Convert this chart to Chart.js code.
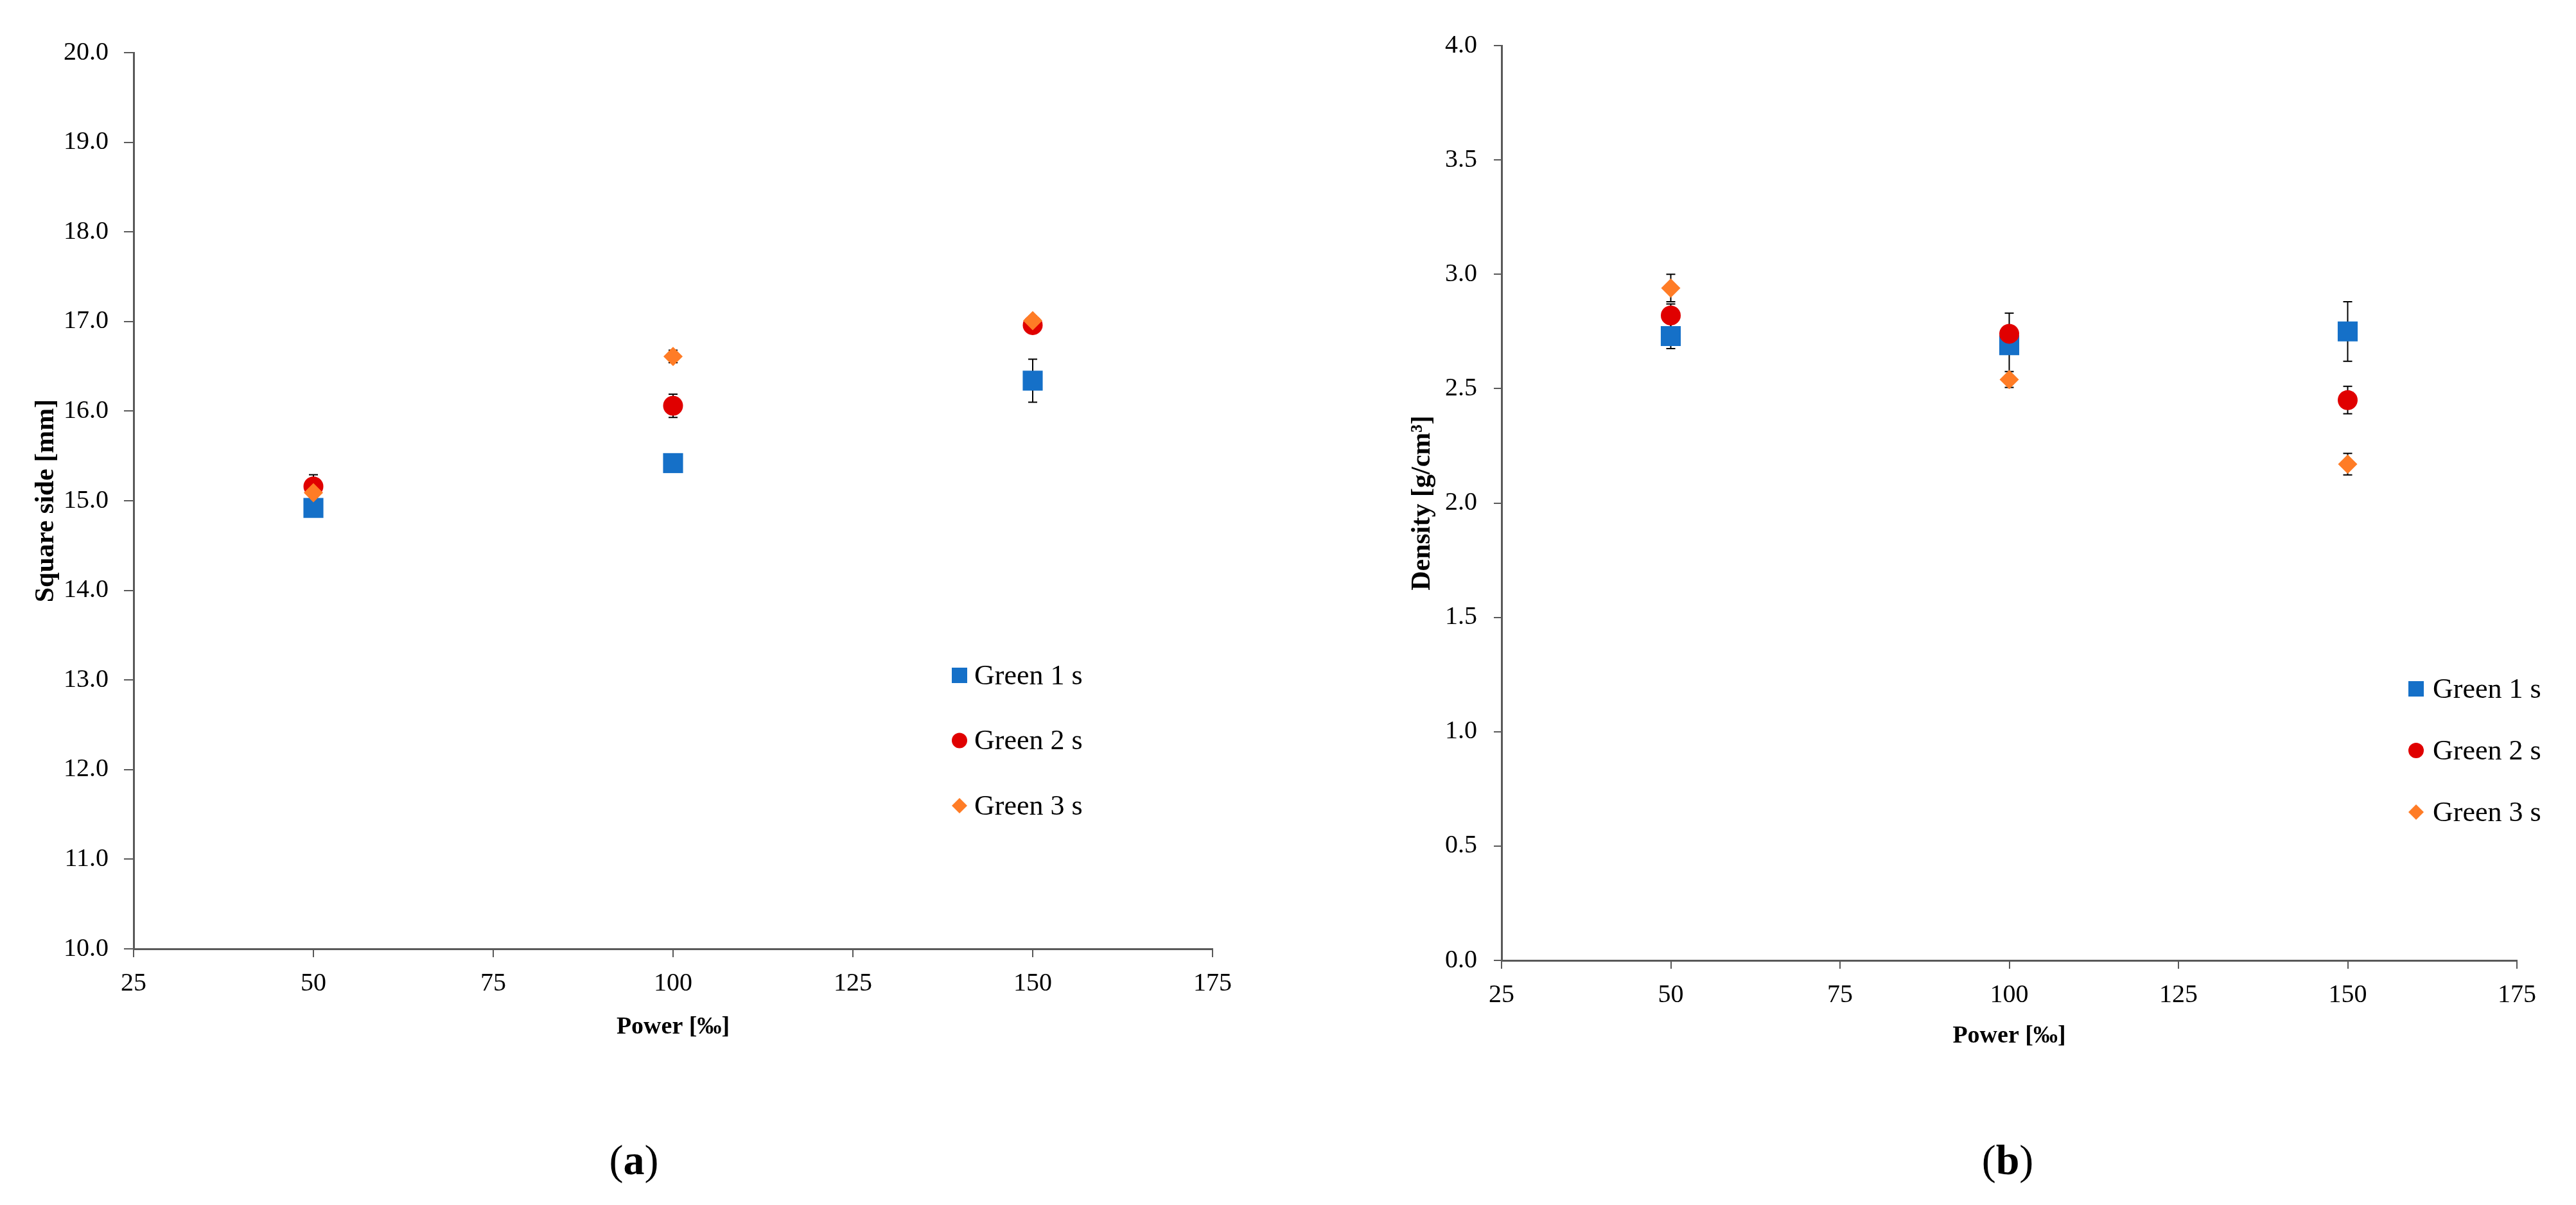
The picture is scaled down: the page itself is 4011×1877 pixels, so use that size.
<!DOCTYPE html>
<html>
<head>
<meta charset="utf-8">
<script src="https://cdn.jsdelivr.net/npm/chart.js@4.4.1/dist/chart.umd.min.js"></script>
<style>
  html, body { margin: 0; padding: 0; background: #fff; }
  body { width: 4011px; height: 1877px; position: relative; overflow: hidden; font-family: 'Liberation Serif', serif; }
  .box { position: absolute; top: 0; height: 1700px; }
  #boxA { left: 0; width: 2000px; }
  #boxB { left: 2006px; width: 2005px; }
  .cap { position: absolute; top: 1764px; font-size: 66px; line-height: 86px; color: #000; transform: translateX(-50%); }
  #capA { left: 987px; }
  #capB { left: 3126px; }
</style>
</head>
<body>
<div class="box" id="boxA"><canvas id="chartA" width="2000" height="1700"></canvas></div>
<div class="box" id="boxB"><canvas id="chartB" width="2005" height="1700"></canvas></div>
<div class="cap" id="capA">(<b>a</b>)</div>
<div class="cap" id="capB">(<b>b</b>)</div>

<script>
// x values (Power, ‰)
const powerValues = [50, 100, 150];
const seriesNames = ['Green 1 s', 'Green 2 s', 'Green 3 s'];

// (a) square side [mm]
const sideGreen1 = [14.92, 15.42, 16.34];
const sideGreen2 = [15.16, 16.06, 16.96];
const sideGreen3 = [15.09, 16.61, 17.01];
const sideErrGreen1 = [0.05, 0.05, 0.24];
const sideErrGreen2 = [0.13, 0.13, 0.06];
const sideErrGreen3 = [0.05, 0.07, 0.05];

// (b) density [g/cm3]
const densGreen1 = [2.73, 2.69, 2.75];
const densGreen2 = [2.82, 2.74, 2.45];
const densGreen3 = [2.94, 2.54, 2.17];
const densErrGreen1 = [0.055, 0.14, 0.13];
const densErrGreen2 = [0.05, 0.03, 0.06];
const densErrGreen3 = [0.06, 0.035, 0.047];

const xTicks = [25, 50, 75, 100, 125, 150, 175];

const colors = ['#1570C8', '#E00000', '#FF7C26'];
const styles = ['rect', 'circle', 'rectRot'];
const radii = [22, 15.5, 15];
const legendRadii = [17, 12, 12];
const drawOrder = [2, 1, 0]; // orange on top, blue at the back

const serif = 'Liberation Serif';

// error bars, drawn under the markers
const errorBars = {
    id: 'errorBars',
    beforeDatasetsDraw(chart, args, opts) {
        const { ctx, scales } = chart;
        ctx.save();
        ctx.strokeStyle = '#000';
        ctx.lineWidth = 2;
        chart.data.datasets.forEach((ds) => {
            ds.errorBars.forEach((e, i) => {
                const px = scales.x.getPixelForValue(ds.data[i].x);
                const top = scales.y.getPixelForValue(ds.data[i].y + e);
                const bot = scales.y.getPixelForValue(ds.data[i].y - e);
                ctx.beginPath();
                ctx.moveTo(px, top); ctx.lineTo(px, bot);
                ctx.moveTo(px - 7, top); ctx.lineTo(px + 7, top);
                ctx.moveTo(px - 7, bot); ctx.lineTo(px + 7, bot);
                ctx.stroke();
            });
        });
        ctx.restore();
    }
};

// legend placed inside the plot, like the original
const innerLegend = {
    id: 'innerLegend',
    afterDraw(chart, args, opts) {
        const ctx = chart.ctx;
        ctx.save();
        ctx.textBaseline = 'middle';
        ctx.font = '44px "' + serif + '"';
        chart.data.datasets.forEach((ds, i) => {
            const cy = opts.y + i * opts.gap;
            ctx.fillStyle = ds.backgroundColor;
            Chart.helpers.drawPoint(ctx, { pointStyle: ds.pointStyle, radius: legendRadii[i], borderWidth: 0, rotation: 0 }, opts.x, cy);
            ctx.fillStyle = '#000';
            ctx.fillText(ds.label, opts.textX, cy + 2);
        });
        ctx.restore();
    }
};

function makeDatasets(seriesValues, seriesErrors) {
    return seriesValues.map((vals, i) => ({
        label: seriesNames[i],
        data: powerValues.map((p, j) => ({ x: p, y: vals[j] })),
        errorBars: seriesErrors[i],
        backgroundColor: colors[i],
        borderColor: colors[i],
        pointBackgroundColor: colors[i],
        pointBorderWidth: 0,
        pointStyle: styles[i],
        pointRadius: radii[i],
        showLine: false,
        order: drawOrder[i],
    }));
}

function makeChart(canvasId, cfg) {
    const axisColor = '#595959';
    return new Chart(document.getElementById(canvasId), {
        type: 'scatter',
        data: { datasets: makeDatasets(cfg.values, cfg.errors) },
        plugins: [errorBars, innerLegend],
        options: {
            responsive: false,
            animation: false,
            layout: { padding: cfg.padding },
            plugins: {
                legend: { display: false },
                tooltip: { enabled: false },
                innerLegend: cfg.legend,
            },
            scales: {
                x: {
                    type: 'linear',
                    min: 25,
                    max: 175,
                    afterBuildTicks: (scale) => { scale.ticks = xTicks.map((v) => ({ value: v })); },
                    afterFit: (scale) => { scale.height = cfg.xHeight; },
                    border: { display: true, color: axisColor, width: 3 },
                    grid: { drawOnChartArea: false, drawTicks: true, tickLength: 13, color: axisColor, lineWidth: 2 },
                    ticks: { color: '#000', padding: 17, font: { family: serif, size: 40 } },
                    title: {
                        display: true,
                        text: 'Power [‰]',
                        color: '#000',
                        font: { family: serif, size: 38, weight: 'bold' },
                        padding: { top: 0, bottom: cfg.xTitlePad },
                    },
                },
                y: {
                    type: 'linear',
                    min: cfg.yMin,
                    max: cfg.yMax,
                    afterBuildTicks: (scale) => { scale.ticks = cfg.yTicks.map((v) => ({ value: v })); },
                    afterFit: (scale) => { scale.width = cfg.yWidth; },
                    border: { display: true, color: axisColor, width: 3 },
                    grid: { drawOnChartArea: false, drawTicks: true, tickLength: cfg.yTickLen, color: axisColor, lineWidth: 2 },
                    ticks: {
                        color: '#000',
                        padding: cfg.yTickPad,
                        font: { family: serif, size: 40 },
                        callback: (v) => Number(v).toFixed(1),
                    },
                    title: {
                        display: true,
                        text: cfg.yTitle,
                        color: '#000',
                        font: { family: serif, size: 42, weight: 'bold' },
                        padding: { top: cfg.yTitlePad, bottom: 0 },
                    },
                },
            },
        },
    });
}

const sideTicks = [10, 11, 12, 13, 14, 15, 16, 17, 18, 19, 20];
const densTicks = [0, 0.5, 1, 1.5, 2, 2.5, 3, 3.5, 4];

makeChart('chartA', {
    values: [sideGreen1, sideGreen2, sideGreen3],
    errors: [sideErrGreen1, sideErrGreen2, sideErrGreen3],
    yMin: 10, yMax: 20, yTicks: sideTicks,
    yTitle: 'Square side [mm]',
    padding: { left: 0, top: 82, right: 112, bottom: 0 },
    yWidth: 208, xHeight: 222,
    yTickLen: 15, yTickPad: 24,
    yTitlePad: 47, xTitlePad: 77,
    legend: { x: 1494, textX: 1517, y: 1052, gap: 101.5 },
});

makeChart('chartB', {
    values: [densGreen1, densGreen2, densGreen3],
    errors: [densErrGreen1, densErrGreen2, densErrGreen3],
    yMin: 0, yMax: 4, yTicks: densTicks,
    yTitle: 'Density [g/cm³]',
    padding: { left: 0, top: 71, right: 92, bottom: 0 },
    yWidth: 332, xHeight: 204,
    yTickLen: 12, yTickPad: 26,
    yTitlePad: 184, xTitlePad: 63,
    legend: { x: 1756, textX: 1782, y: 1073, gap: 96 },
});
</script>
</body>
</html>
